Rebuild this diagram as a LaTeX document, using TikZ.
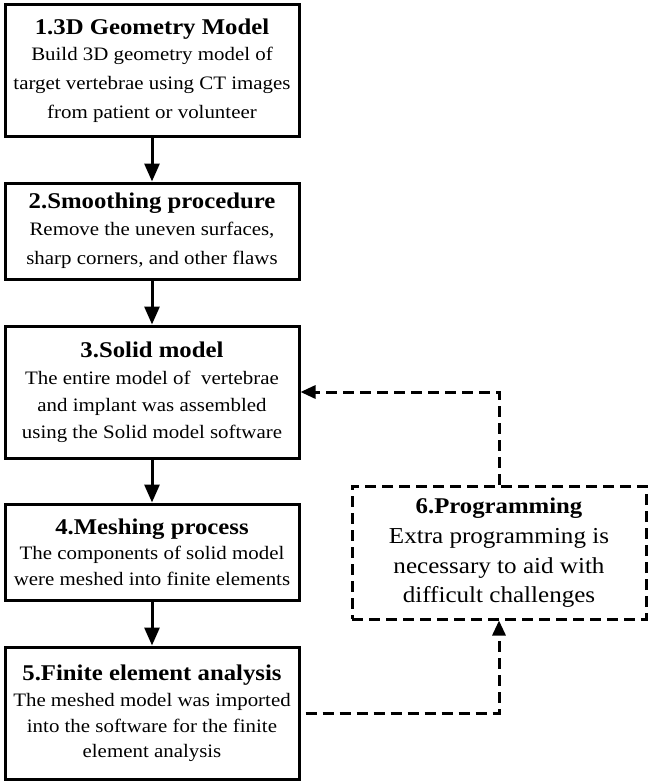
\documentclass[tikz,border=0pt]{standalone}
\usepackage{fontspec}
\setmainfont[FakeStretch=1.1]{Liberation Serif}
\usetikzlibrary{arrows.meta}
\newcommand{\ttl}[1]{{\fontsize{22.5}{24}\selectfont\textbf{#1}}}
\begin{document}
\begin{tikzpicture}[x=1pt,y=-1pt,
  box/.style={draw, line width=3pt, minimum width=294pt, inner sep=0pt, align=center,
    font=\fontsize{19}{27}\selectfont},
  dbox/.style={draw, line width=3pt, dash pattern=on 11pt off 6pt, minimum width=294pt,
    minimum height=133pt, inner sep=0pt, align=center, font=\fontsize{22.8}{29.5}\selectfont},
  arr/.style={line width=3pt, -{Triangle[length=18pt,width=15pt]}},
  darr/.style={line width=3pt, dash pattern=on 11pt off 6pt, -{Triangle[length=15pt,width=13pt]}}]
\useasboundingbox (0,0) rectangle (650,784);
\node[box, minimum height=131pt, font=\fontsize{19}{29}\selectfont] (b1) at (152,70.5)
  {\ttl{1.3D Geometry Model}\\[-3pt]Build 3D geometry model of\\target vertebrae using CT images\\from patient or volunteer};
\node[box, minimum height=96pt, font=\fontsize{19}{29}\selectfont] (b2) at (152,231)
  {\ttl{2.Smoothing procedure}\\[-2pt]Remove the uneven surfaces,\\sharp corners, and other flaws};
\node[box, minimum height=132pt] (b3) at (152,392)
  {\ttl{3.Solid model}\\The entire model of\ \ vertebrae\\and implant was assembled\\using the Solid model software};
\node[box, minimum height=96pt, font=\fontsize{19}{25.5}\selectfont] (b4) at (152,552)
  {\ttl{4.Meshing process}\\The components of solid model\\were meshed into finite elements};
\node[box, minimum height=132pt, font=\fontsize{19}{25.5}\selectfont] (b5) at (152,713)
  {\ttl{5.Finite element analysis}\\[1pt]The meshed model was imported\\into the software for the finite\\element analysis};
\node[dbox] (b6) at (499,552.5)
  {\ttl{6.Programming}\\[1pt]Extra programming is\\necessary to aid with\\difficult challenges};
\draw[arr] (b1) -- (b2);
\draw[arr] (b2) -- (b3);
\draw[arr] (b3) -- (b4);
\draw[arr] (b4) -- (b5);
\draw[darr, shorten <=5pt] (b5.east) -| (b6.south);
\draw[darr] (b6.north) |- (b3.east);
\end{tikzpicture}
\end{document}
